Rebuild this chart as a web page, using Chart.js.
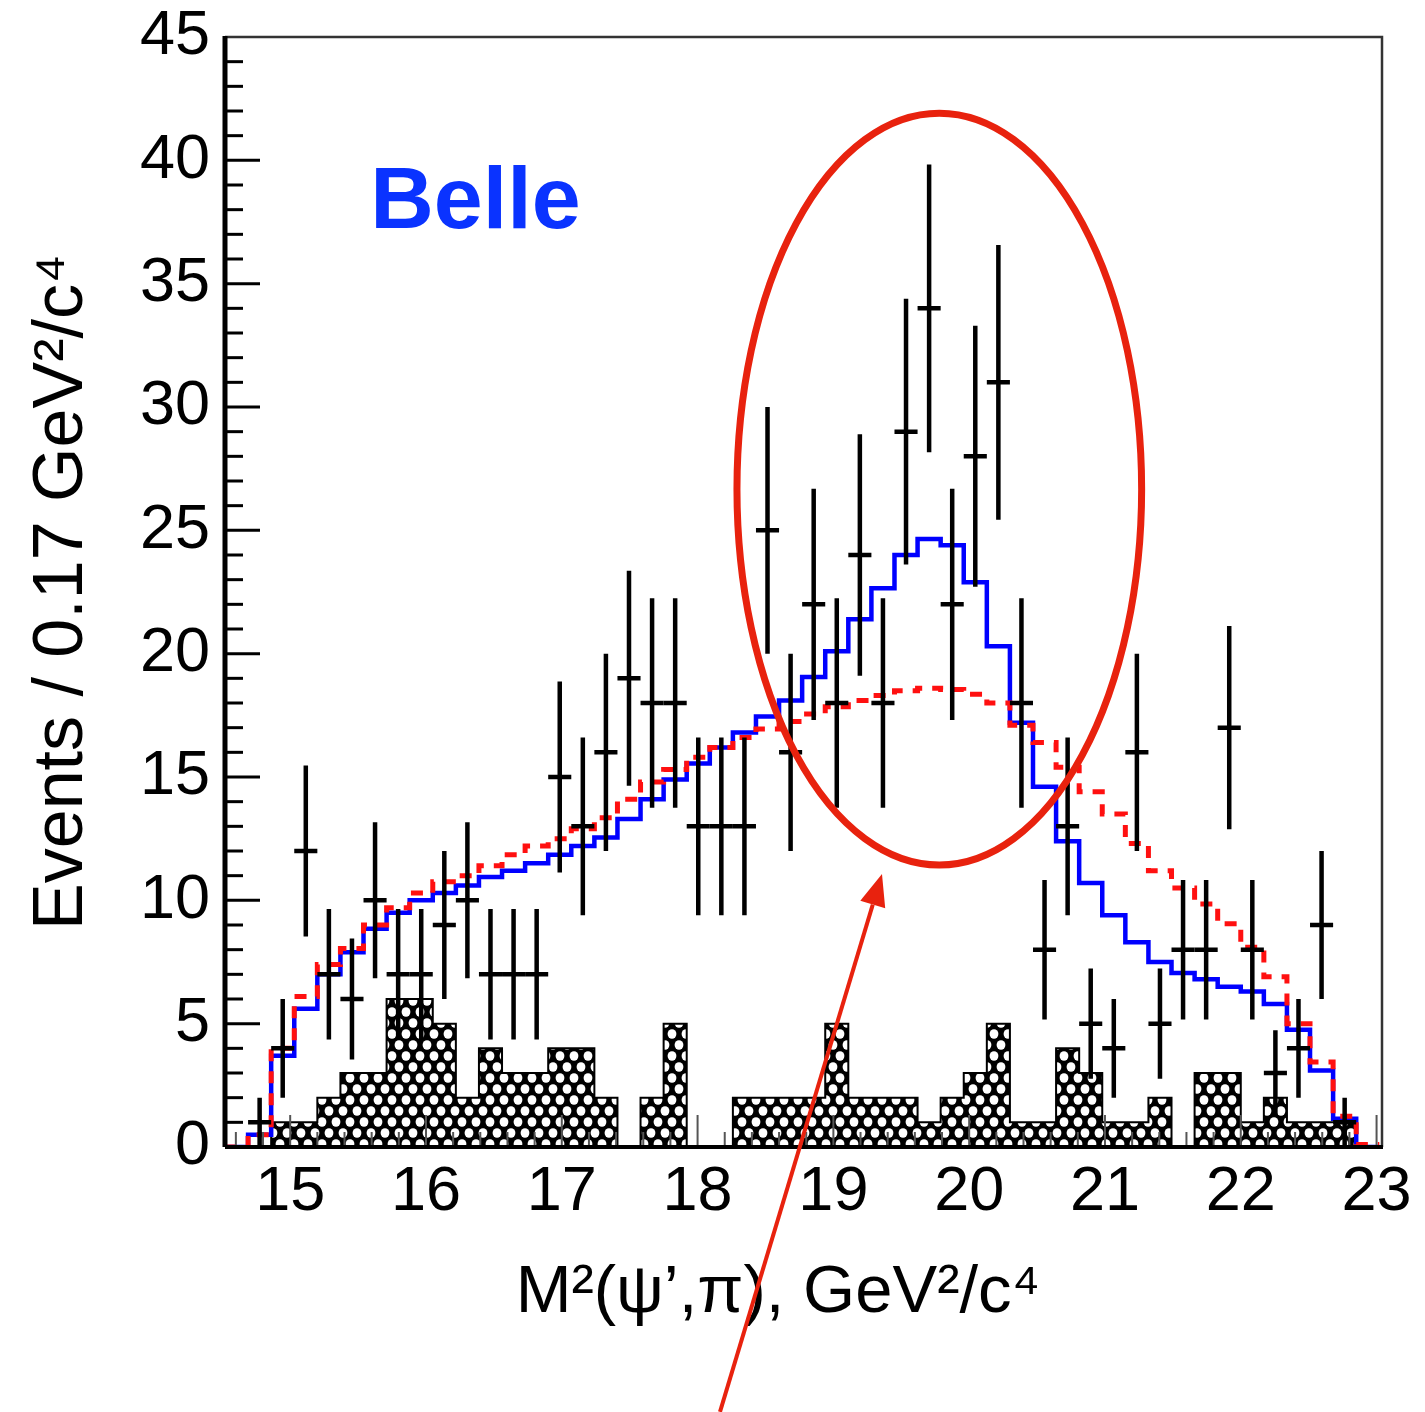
<!DOCTYPE html>
<html>
<head>
<meta charset="utf-8">
<script src="https://cdn.jsdelivr.net/npm/chart.js@4.4.1/dist/chart.umd.min.js"></script>
<style>
  html, body { margin: 0; padding: 0; background: #fff; }
  #wrap { width: 1425px; height: 1412px; }
</style>
</head>
<body>
<div id="wrap"><canvas id="belleChart" width="1425" height="1412"></canvas></div>
<script>
// binning of M^2(psi',pi): 50 bins of 0.17 GeV^2/c^4
var binStart = 14.52;
var binWidth = 0.17;

// data (events per bin)
var dataCounts = [
  0, 1, 4, 12, 7, 6, 10, 7, 7, 9,
  10, 7, 7, 7, 15, 13, 16, 19, 18, 18,
  13, 13, 13, 25, 16, 22, 18, 24, 18, 29,
  34, 22, 28, 31, 18, 8, 13, 5, 4, 16,
  5, 8, 8, 17, 8, 3, 4, 9, 1, 0
];

// fit with Z(4430) signal (blue)
var totalFit = [
  0, 0.5, 3.7, 5.6, 7.0, 7.9, 8.85, 9.5, 10.0, 10.3,
  10.6, 10.95, 11.2, 11.5, 11.85, 12.2, 12.55, 13.3, 14.1, 14.9,
  15.55, 16.2, 16.8, 17.45, 18.1, 19.05, 20.1, 21.4, 22.65, 24.0,
  24.65, 24.4, 22.9, 20.3, 17.2, 14.6, 12.4, 10.7, 9.4, 8.3,
  7.5, 7.05, 6.8, 6.5, 6.3, 5.8, 4.75, 3.1, 1.15, 0
];

// fit without signal (red dashed)
var noSignalFit = [
  0, 0.5, 4.0, 6.1, 7.4, 8.05, 9.0, 9.7, 10.3, 10.75,
  11.0, 11.4, 11.85, 12.2, 12.5, 12.9, 13.35, 14.1, 14.8, 15.3,
  15.8, 16.2, 16.6, 16.95, 17.25, 17.55, 17.85, 18.1, 18.3, 18.5,
  18.6, 18.55, 18.35, 18.0, 17.1, 16.4, 15.4, 14.4, 13.5, 12.3,
  11.2, 10.5, 9.85, 9.05, 8.1, 6.9, 5.0, 3.45, 1.25, 0.1
];

// sideband background (hatched)
var sidebandBkg = [
  0, 0, 1, 1, 2, 3, 3, 6, 6, 5,
  2, 4, 3, 3, 4, 4, 2, 0, 2, 5,
  0, 0, 2, 2, 2, 2, 5, 2, 2, 2,
  1, 2, 3, 5, 1, 1, 4, 3, 1, 1,
  2, 0, 3, 3, 1, 2, 1, 1, 1, 0
];

var xTickLabels = [15, 16, 17, 18, 19, 20, 21, 22, 23];
var yTickLabels = [0, 5, 10, 15, 20, 25, 30, 35, 40, 45];

var fontFamily = '"Liberation Sans", Arial, Helvetica, sans-serif';
var annoRed = "#e8220e";

// histogram -> points on bin edges for a stepped line
function stepPoints(values) {
  var pts = [];
  values.forEach(function (v, i) {
    pts.push({ x: binStart + i * binWidth, y: v });
  });
  pts.push({ x: binStart + values.length * binWidth, y: values[values.length - 1] });
  return pts;
}

function dataPoints() {
  var pts = [];
  dataCounts.forEach(function (n, i) {
    if (n > 0) pts.push({ x: binStart + (i + 0.5) * binWidth, y: n });
  });
  return pts;
}

function makeHatch() {
  var c = document.createElement("canvas");
  c.width = 14;
  c.height = 22;
  var g = c.getContext("2d");
  g.fillStyle = "#000";
  g.fillRect(0, 0, 14, 22);
  g.fillStyle = "#fff";
  [[0, 0], [14, 0], [0, 22], [14, 22], [7, 11]].forEach(function (p) {
    g.beginPath();
    g.ellipse(p[0], p[1], 4.4, 4.8, 0, 0, Math.PI * 2);
    g.fill();
  });
  return g.createPattern(c, "repeat");
}

// error bars: sqrt(N) vertically, bin width horizontally
var errorBarPlugin = {
  id: "errorBars",
  afterDatasetsDraw: function (chart) {
    var ctx = chart.ctx;
    var xs = chart.scales.x;
    var ys = chart.scales.y;
    ctx.save();
    ctx.strokeStyle = "#000";
    ctx.lineWidth = 4.5;
    dataPoints().forEach(function (p) {
      var err = Math.sqrt(p.y);
      var px = xs.getPixelForValue(p.x);
      var py = ys.getPixelForValue(p.y);
      ctx.beginPath();
      ctx.moveTo(px, ys.getPixelForValue(Math.max(p.y - err, 0)));
      ctx.lineTo(px, ys.getPixelForValue(p.y + err));
      ctx.moveTo(xs.getPixelForValue(p.x - binWidth / 2), py);
      ctx.lineTo(xs.getPixelForValue(p.x + binWidth / 2), py);
      ctx.stroke();
    });
    ctx.restore();
  }
};

// ROOT-like frame: ticks pointing into the pad
var frameAxesPlugin = {
  id: "frameAxes",
  afterDatasetsDraw: function (chart) {
    var ctx = chart.ctx;
    var a = chart.chartArea;
    var xs = chart.scales.x;
    var ys = chart.scales.y;
    ctx.save();

    ctx.strokeStyle = "#333";
    ctx.lineWidth = 2.5;
    ctx.beginPath();
    ctx.moveTo(a.left, a.top);
    ctx.lineTo(a.right, a.top);
    ctx.lineTo(a.right, a.bottom);
    ctx.stroke();

    // y ticks
    ctx.strokeStyle = "#000";
    ctx.lineWidth = 3;
    for (var v = 1; v < 45; v++) {
      var py = ys.getPixelForValue(v);
      var len = v % 5 === 0 ? 35 : 18;
      ctx.beginPath();
      ctx.moveTo(a.left, py);
      ctx.lineTo(a.left + len, py);
      ctx.stroke();
    }

    // x ticks
    ctx.strokeStyle = "#555";
    ctx.lineWidth = 2;
    for (var k = 73; k <= 115; k++) {
      var px = xs.getPixelForValue(k * 0.2);
      var major = k % 5 === 0;
      ctx.beginPath();
      ctx.moveTo(px, a.bottom);
      ctx.lineTo(px, a.bottom - (major ? 32 : 15));
      ctx.stroke();
    }

    ctx.strokeStyle = "#000";
    ctx.lineWidth = 5;
    ctx.beginPath();
    ctx.moveTo(a.left, a.top - 1);
    ctx.lineTo(a.left, a.bottom);
    ctx.stroke();
    ctx.lineWidth = 4;
    ctx.beginPath();
    ctx.moveTo(a.left, a.bottom);
    ctx.lineTo(a.right + 1, a.bottom);
    ctx.stroke();
    ctx.restore();
  }
};

// labels and annotation (ellipse + arrow)
var annotationPlugin = {
  id: "annotations",
  afterDraw: function (chart) {
    var ctx = chart.ctx;
    var a = chart.chartArea;
    var xs = chart.scales.x;
    var ys = chart.scales.y;
    ctx.save();

    ctx.fillStyle = "#000";
    ctx.font = "67px " + fontFamily;
    ctx.textAlign = "center";
    ctx.textBaseline = "alphabetic";
    ctx.fillText("M\u00b2(\u03c8\u2019,\u03c0), GeV\u00b2/c\u2074", a.left + 553, a.bottom + 165);

    ctx.fillStyle = "#0a33ff";
    ctx.font = "bold 88px " + fontFamily;
    ctx.textAlign = "left";
    ctx.fillText("Belle", xs.getPixelForValue(15.59), ys.getPixelForValue(37.25));

    var cx = xs.getPixelForValue(19.78);
    var cy = ys.getPixelForValue(26.67);
    var rx = xs.getPixelForValue(19.78 + 1.49) - cx;
    var ry = cy - ys.getPixelForValue(26.67 + 15.24);
    ctx.strokeStyle = annoRed;
    ctx.lineWidth = 7;
    ctx.beginPath();
    ctx.ellipse(cx, cy, rx, ry, 0, 0, Math.PI * 2);
    ctx.stroke();

    var x0 = xs.getPixelForValue(18.165);
    var y0 = ys.getPixelForValue(-10.74);
    var x1 = xs.getPixelForValue(19.358);
    var y1 = ys.getPixelForValue(11.07);
    var ang = Math.atan2(y1 - y0, x1 - x0);
    var headLen = 32;
    var headHalf = 13;
    var bx = x1 - headLen * Math.cos(ang);
    var by = y1 - headLen * Math.sin(ang);
    ctx.lineWidth = 4;
    ctx.beginPath();
    ctx.moveTo(x0, y0);
    ctx.lineTo(bx, by);
    ctx.stroke();
    ctx.fillStyle = annoRed;
    ctx.beginPath();
    ctx.moveTo(x1, y1);
    ctx.lineTo(bx + headHalf * Math.sin(ang), by - headHalf * Math.cos(ang));
    ctx.lineTo(bx - headHalf * Math.sin(ang), by + headHalf * Math.cos(ang));
    ctx.closePath();
    ctx.fill();
    ctx.restore();
  }
};

Chart.defaults.font.family = fontFamily;

new Chart(document.getElementById("belleChart"), {
  type: "line",
  data: {
    datasets: [
      {
        type: "scatter",
        label: "Data",
        data: dataPoints(),
        pointRadius: 0,
        showLine: false,
        order: 0
      },
      {
        label: "Fit without signal",
        data: stepPoints(noSignalFit),
        stepped: "before",
        borderColor: "#ff1010",
        borderWidth: 5,
        borderDash: [12, 10],
        pointRadius: 0,
        fill: false,
        order: 1
      },
      {
        label: "Fit",
        data: stepPoints(totalFit),
        stepped: "before",
        borderColor: "#0000ff",
        borderWidth: 4.5,
        pointRadius: 0,
        fill: false,
        order: 2
      },
      {
        label: "Sideband background",
        data: stepPoints(sidebandBkg),
        stepped: "before",
        borderColor: "#000",
        borderWidth: 2,
        backgroundColor: makeHatch(),
        pointRadius: 0,
        fill: "origin",
        order: 3
      }
    ]
  },
  options: {
    responsive: false,
    animation: false,
    layout: { padding: { top: 37, right: 43, left: 0, bottom: 0 } },
    plugins: {
      legend: { display: false },
      tooltip: { enabled: false }
    },
    scales: {
      x: {
        type: "linear",
        min: 14.52,
        max: 23.04,
        grid: { display: false },
        border: { display: false },
        afterBuildTicks: function (scale) {
          scale.ticks = xTickLabels.map(function (v) { return { value: v }; });
        },
        afterFit: function (scale) {
          scale.height = 265;
          scale.paddingLeft = 0;
          scale.paddingRight = 0;
        },
        ticks: {
          autoSkip: false,
          maxRotation: 0,
          padding: 0,
          color: "#000",
          font: { size: 63 }
        }
      },
      y: {
        type: "linear",
        min: 0,
        max: 45,
        grid: { display: false, drawTicks: false },
        border: { display: false },
        afterBuildTicks: function (scale) {
          scale.ticks = yTickLabels.map(function (v) { return { value: v }; });
        },
        afterFit: function (scale) {
          scale.width = 225;
          scale.paddingTop = 0;
          scale.paddingBottom = 0;
        },
        ticks: {
          padding: 15,
          color: "#000",
          font: { size: 63 }
        },
        title: {
          display: true,
          text: "Events / 0.17 GeV\u00b2/c\u2074",
          color: "#000",
          font: { size: 70 },
          padding: { top: 21, bottom: 0 }
        }
      }
    }
  },
  plugins: [errorBarPlugin, frameAxesPlugin, annotationPlugin]
});
</script>
</body>
</html>
